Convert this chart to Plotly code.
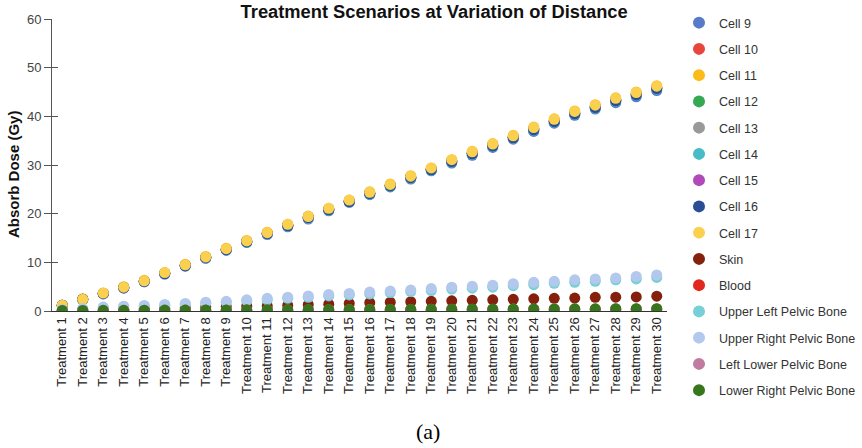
import plotly.graph_objects as go

treatments = [f"Treatment {i}" for i in range(1, 31)]

cell9 = [1.1, 2.3, 3.5, 4.7, 6.0, 7.6, 9.2, 10.8, 12.5, 14.1, 15.7, 17.3, 18.9, 20.6, 22.3,
         23.9, 25.5, 27.1, 28.8, 30.4, 32.0, 33.6, 35.3, 36.9, 38.6, 40.2, 41.5, 42.8, 44.0, 45.3]
cell10 = [1.2, 2.4, 3.6, 4.8, 6.1, 7.8, 9.4, 11.0, 12.7, 14.3, 16.0, 17.6, 19.3, 20.9, 22.6,
          24.2, 25.8, 27.5, 29.2, 30.8, 32.4, 34.0, 35.7, 37.4, 39.0, 40.6, 41.9, 43.3, 44.5, 45.8]
cell11 = [1.2, 2.5, 3.7, 5.0, 6.3, 7.9, 9.6, 11.2, 12.9, 14.5, 16.2, 17.8, 19.5, 21.1, 22.8,
          24.5, 26.1, 27.8, 29.4, 31.1, 32.8, 34.4, 36.1, 37.8, 39.5, 41.1, 42.4, 43.8, 45.0, 46.3]
cell12 = [1.2, 2.4, 3.6, 4.8, 6.1, 7.7, 9.4, 11.0, 12.6, 14.3, 15.9, 17.6, 19.2, 20.9, 22.5,
          24.2, 25.8, 27.4, 29.1, 30.7, 32.4, 34.0, 35.7, 37.3, 39.0, 40.6, 41.9, 43.3, 44.5, 45.8]
cell13 = [1.2, 2.4, 3.6, 4.9, 6.1, 7.8, 9.4, 11.0, 12.7, 14.3, 16.0, 17.6, 19.3, 20.9, 22.6,
          24.2, 25.9, 27.5, 29.2, 30.8, 32.5, 34.1, 35.8, 37.4, 39.1, 40.7, 42.0, 43.4, 44.6, 45.9]
cell14 = [1.1, 2.3, 3.5, 4.8, 6.0, 7.6, 9.3, 10.9, 12.5, 14.1, 15.8, 17.4, 19.1, 20.7, 22.4,
          24.0, 25.6, 27.3, 28.9, 30.6, 32.2, 33.8, 35.5, 37.1, 38.8, 40.4, 41.7, 43.1, 44.3, 45.6]
cell15 = [1.2, 2.4, 3.6, 4.8, 6.1, 7.7, 9.4, 11.0, 12.6, 14.3, 15.9, 17.6, 19.2, 20.9, 22.5,
          24.2, 25.8, 27.5, 29.1, 30.8, 32.4, 34.1, 35.7, 37.4, 39.1, 40.7, 42.0, 43.4, 44.6, 45.9]
cell16 = [1.2, 2.4, 3.6, 4.8, 6.1, 7.7, 9.3, 11.0, 12.6, 14.2, 15.9, 17.5, 19.2, 20.8, 22.5,
          24.1, 25.7, 27.4, 29.0, 30.7, 32.3, 33.9, 35.6, 37.2, 38.9, 40.5, 41.8, 43.2, 44.4, 45.7]
cell17 = [1.2, 2.4, 3.7, 4.9, 6.2, 7.9, 9.5, 11.1, 12.8, 14.4, 16.1, 17.8, 19.4, 21.1, 22.8,
          24.4, 26.0, 27.7, 29.4, 31.1, 32.7, 34.3, 36.0, 37.7, 39.4, 41.0, 42.3, 43.7, 44.9, 46.2]
skin = [0.1, 0.2, 0.25, 0.35, 0.45, 0.55, 0.65, 0.8, 0.9, 1.0, 1.05, 1.15, 1.3, 1.4, 1.55,
        1.7, 1.8, 1.9, 2.0, 2.1, 2.2, 2.3, 2.4, 2.5, 2.6, 2.65, 2.8, 2.85, 2.9, 3.05]
blood = [0.05, 0.05, 0.06, 0.07, 0.08, 0.09, 0.1, 0.11, 0.12, 0.13, 0.14, 0.15, 0.16, 0.17, 0.18,
         0.19, 0.2, 0.21, 0.22, 0.23, 0.24, 0.25, 0.26, 0.27, 0.28, 0.29, 0.3, 0.31, 0.32, 0.33]
upper_left_pelvic = [0.2, 0.4, 0.7, 0.9, 1.05, 1.2, 1.4, 1.6, 1.8, 2.1, 2.3, 2.6, 2.8, 3.1, 3.3,
                     3.5, 3.8, 4.0, 4.2, 4.5, 4.7, 4.9, 5.2, 5.4, 5.7, 5.9, 6.1, 6.4, 6.6, 6.9]
upper_right_pelvic = [0.3, 0.5, 0.8, 1.0, 1.15, 1.35, 1.55, 1.8, 2.0, 2.3, 2.6, 2.85, 3.1, 3.4, 3.6,
                      3.9, 4.1, 4.3, 4.6, 4.9, 5.1, 5.3, 5.6, 5.9, 6.1, 6.4, 6.6, 6.8, 7.1, 7.4]
left_lower_pelvic = [0.08, 0.1, 0.12, 0.13, 0.15, 0.16, 0.18, 0.19, 0.21, 0.22, 0.24, 0.25, 0.27, 0.28, 0.29,
                     0.31, 0.32, 0.33, 0.34, 0.36, 0.37, 0.38, 0.39, 0.4, 0.41, 0.42, 0.43, 0.44, 0.45, 0.46]
lower_right_pelvic = [0.1, 0.12, 0.14, 0.15, 0.17, 0.18, 0.2, 0.21, 0.23, 0.24, 0.26, 0.27, 0.29, 0.3, 0.31,
                      0.33, 0.34, 0.35, 0.36, 0.38, 0.39, 0.4, 0.41, 0.42, 0.43, 0.44, 0.45, 0.46, 0.47, 0.48]

series = [
    ("Cell 9", cell9, "#577bc8"),
    ("Cell 10", cell10, "#e8453c"),
    ("Cell 11", cell11, "#fbbc1a"),
    ("Cell 12", cell12, "#34a853"),
    ("Cell 13", cell13, "#999999"),
    ("Cell 14", cell14, "#46bdc6"),
    ("Cell 15", cell15, "#b04ab8"),
    ("Cell 16", cell16, "#2a4d94"),
    ("Cell 17", cell17, "#fcd04f"),
    ("Skin", skin, "#85200c"),
    ("Blood", blood, "#e0281f"),
    ("Upper Left Pelvic Bone", upper_left_pelvic, "#76d0d6"),
    ("Upper Right Pelvic Bone", upper_right_pelvic, "#b2c8ec"),
    ("Left Lower Pelvic Bone", left_lower_pelvic, "#c27ba0"),
    ("Lower Right Pelvic Bone", lower_right_pelvic, "#38761d"),
]

fig = go.Figure()
for name, vals, color in series:
    fig.add_trace(go.Scatter(
        x=treatments, y=vals, name=name, mode="markers",
        marker=dict(size=11, color=color, line=dict(width=0)),
        legendgroup=name,
    ))

# inner half of the crossing y ticks
fig.add_trace(go.Scatter(x=[treatments[0]], y=[None], yaxis="y2", showlegend=False,
                         hoverinfo="skip", mode="markers"))

fig.update_layout(
    width=862, height=448,
    margin=dict(l=52, r=184, t=16, b=137),
    paper_bgcolor="white", plot_bgcolor="white",
    font=dict(family="Liberation Sans, Arial, sans-serif", size=12, color="#333"),
    title=dict(text="<b>Treatment Scenarios at Variation of Distance</b>",
               x=(441 - 52) / 626, xref="paper", xanchor="center", y=0.974, yanchor="middle",
               font=dict(size=18.3, color="#111")),
    showlegend=True,
    legend=dict(xref="container", yref="container", x=679 / 862, xanchor="left",
                y=1 - 8 / 448, yanchor="top",
                font=dict(size=12.5, color="#333"), tracegroupgap=7,
                itemsizing="constant", maxheight=440),
    xaxis=dict(
        type="category", tickangle=-90, showgrid=False, showline=True,
        linecolor="#333", linewidth=1, ticks="", tickfont=dict(size=13, color="#222"),
        range=[-0.5, 29.5],
    ),
    yaxis=dict(
        range=[0, 60], dtick=10, showgrid=False, showline=True, linecolor="#555",
        linewidth=1, ticks="outside", ticklen=7, tickcolor="#555",
        tickfont=dict(size=13, color="#444"), zeroline=False,
    ),
    yaxis2=dict(
        range=[0, 60], dtick=10, overlaying="y", side="left", showgrid=False, showline=False,
        ticks="inside", ticklen=6, tickcolor="#555", showticklabels=False, zeroline=False,
    ),
    annotations=[
        dict(text="<b>Absorb Dose (Gy)</b>", xref="paper", yref="paper", textangle=-90,
             x=(13 - 52) / 626, y=(311 - 173) / 295, xanchor="center", yanchor="middle",
             showarrow=False, font=dict(size=15, color="#111")),
        dict(text="(a)", xref="paper", yref="paper",
             x=(435 - 52) / 626, y=-(433 - 311) / 295, xanchor="center", yanchor="middle",
             showarrow=False,
             font=dict(family="Liberation Serif, Times New Roman, serif", size=22, color="#000")),
    ],
)

fig.write_html("out.html")
